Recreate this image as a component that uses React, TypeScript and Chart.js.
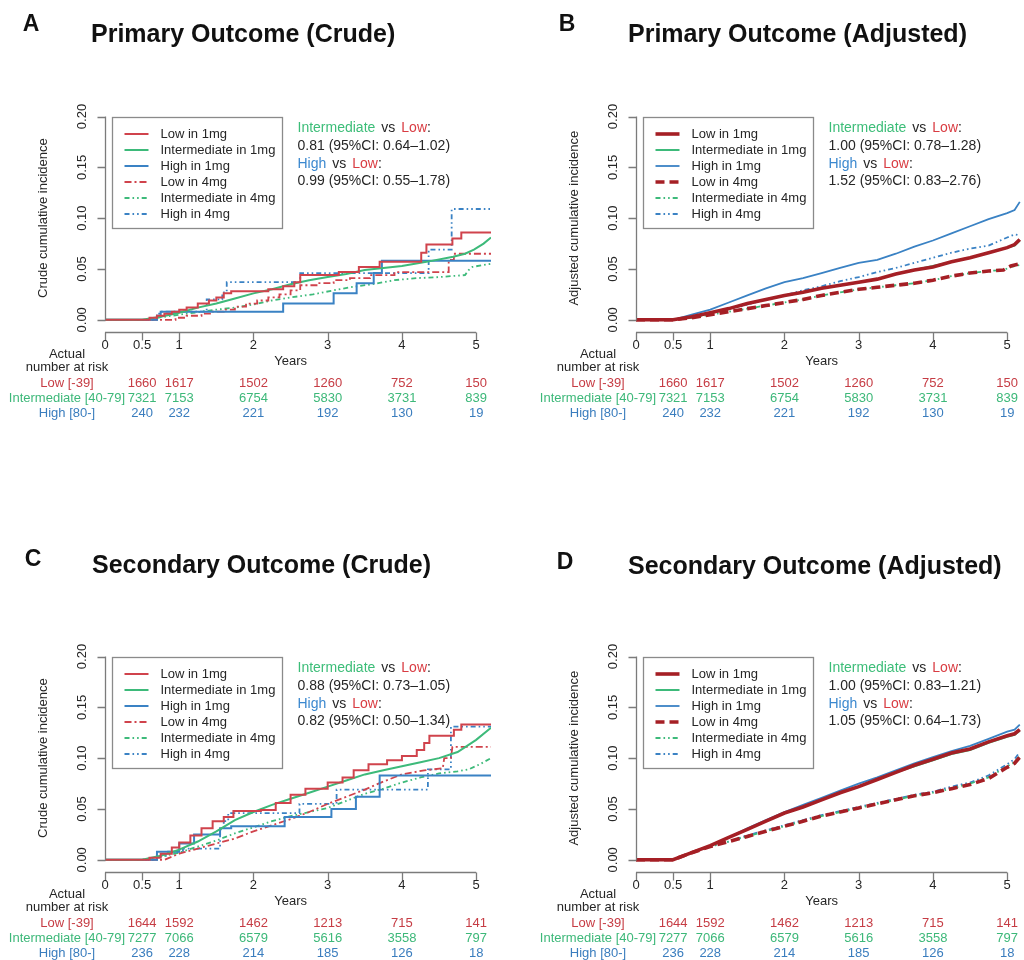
import React, { useEffect, useRef } from "react";
import { Chart, registerables } from "chart.js";

Chart.register(...registerables);

type Pt = [number, number];

// ---------------- ticks & labels ----------------
const xTicks = [0, 0.5, 1, 2, 3, 4, 5];
const xTickLabels = ["0", "0.5", "1", "2", "3", "4", "5"];
const yTicks = [0, 0.05, 0.1, 0.15, 0.2];
const yTickLabels = ["0.00", "0.05", "0.10", "0.15", "0.20"];

const seriesLabels = [
  "Low in 1mg",
  "Intermediate in 1mg",
  "High in 1mg",
  "Low in 4mg",
  "Intermediate in 4mg",
  "High in 4mg",
];

const riskTimes = [0.5, 1, 2, 3, 4, 5];
const riskGroupLabels = ["Low [-39]", "Intermediate [40-79]", "High [80-]"];
const primaryRiskLow = [1660, 1617, 1502, 1260, 752, 150];
const primaryRiskInt = [7321, 7153, 6754, 5830, 3731, 839];
const primaryRiskHigh = [240, 232, 221, 192, 130, 19];
const secondaryRiskLow = [1644, 1592, 1462, 1213, 715, 141];
const secondaryRiskInt = [7277, 7066, 6579, 5616, 3558, 797];
const secondaryRiskHigh = [236, 228, 214, 185, 126, 18];

// ---------------- Panel A: primary, crude ----------------
const aLow1: Pt[] = [[0,0],[0.5,0],[0.6,0.002],[0.7,0.004],[0.8,0.006],[0.9,0.008],[1.0,0.01],[1.1,0.012],[1.25,0.016],[1.4,0.019],[1.5,0.022],[1.6,0.026],[1.7,0.028],[2.2,0.03],[2.4,0.033],[2.55,0.037],[2.63,0.044],[3.05,0.044],[3.15,0.047],[3.42,0.052],[3.7,0.057],[4.26,0.066],[4.33,0.074],[4.68,0.08],[4.8,0.086],[5.2,0.086]];
const aInt1: Pt[] = [[0,0],[0.5,0],[0.75,0.003],[1.0,0.007],[1.25,0.012],[1.5,0.016],[1.75,0.021],[2.0,0.026],[2.25,0.03],[2.5,0.035],[2.75,0.039],[3.0,0.042],[3.25,0.045],[3.5,0.049],[3.75,0.051],[4.0,0.053],[4.33,0.057],[4.69,0.062],[4.85,0.065],[4.97,0.069],[5.1,0.075],[5.2,0.081]];
const aHigh1: Pt[] = [[0,0],[0.7,0.004],[0.75,0.008],[2.4,0.016],[3.08,0.026],[3.39,0.036],[3.62,0.046],[3.73,0.058],[5.2,0.058]];
const aLow4: Pt[] = [[0,0],[0.85,0],[0.95,0.002],[1.1,0.004],[1.3,0.006],[1.45,0.008],[1.6,0.01],[1.75,0.013],[1.9,0.016],[2.05,0.019],[2.2,0.022],[2.35,0.025],[2.5,0.029],[2.63,0.034],[2.85,0.036],[3.08,0.039],[3.3,0.041],[3.57,0.044],[3.9,0.047],[4.63,0.059],[4.7,0.065],[5.2,0.065]];
const aInt4: Pt[] = [[0,0],[0.55,0],[0.7,0.002],[0.9,0.004],[1.1,0.006],[1.3,0.008],[1.5,0.01],[1.75,0.012],[2.0,0.015],[2.25,0.019],[2.5,0.022],[2.8,0.025],[3.08,0.029],[3.3,0.032],[3.6,0.035],[3.9,0.039],[4.2,0.041],[4.5,0.042],[4.85,0.044],[4.9,0.049],[4.95,0.052],[5.1,0.054],[5.2,0.055]];
const aHigh4: Pt[] = [[0,0],[0.7,0.004],[0.73,0.008],[1.37,0.02],[1.58,0.027],[1.64,0.037],[2.63,0.046],[4.36,0.069],[4.67,0.109],[5.2,0.109]];

// ---------------- Panel B: primary, adjusted ----------------
const bLow1: Pt[] = [[0,0],[0.5,0],[0.75,0.003],[1.0,0.007],[1.25,0.011],[1.5,0.016],[1.75,0.02],[2.0,0.024],[2.25,0.027],[2.5,0.031],[2.75,0.034],[3.0,0.037],[3.25,0.04],[3.5,0.045],[3.75,0.049],[4.0,0.052],[4.25,0.057],[4.5,0.061],[4.75,0.066],[5.0,0.071],[5.1,0.074],[5.17,0.079]];
const bInt1: Pt[] = [[0,0],[0.5,0],[0.75,0.003],[1.0,0.007],[1.25,0.011],[1.5,0.016],[1.75,0.02],[2.0,0.024],[2.25,0.027],[2.5,0.031],[2.75,0.034],[3.0,0.037],[3.25,0.04],[3.5,0.045],[3.75,0.049],[4.0,0.053],[4.25,0.057],[4.5,0.061],[4.75,0.066],[5.0,0.071],[5.1,0.073],[5.17,0.078]];
const bHigh1: Pt[] = [[0,0],[0.5,0],[0.75,0.005],[1.0,0.01],[1.25,0.017],[1.5,0.024],[1.75,0.031],[2.0,0.037],[2.25,0.041],[2.5,0.046],[2.75,0.051],[3.0,0.056],[3.25,0.059],[3.5,0.065],[3.75,0.072],[4.0,0.078],[4.25,0.085],[4.5,0.092],[4.75,0.099],[5.0,0.105],[5.1,0.108],[5.17,0.116]];
const bLow4: Pt[] = [[0,0],[0.5,0],[0.75,0.002],[1.0,0.005],[1.25,0.008],[1.5,0.011],[1.75,0.014],[2.0,0.017],[2.25,0.02],[2.5,0.024],[2.75,0.027],[3.0,0.03],[3.25,0.032],[3.5,0.034],[3.75,0.036],[4.0,0.039],[4.25,0.043],[4.5,0.046],[4.75,0.048],[4.95,0.049],[5.05,0.053],[5.17,0.055]];
const bInt4: Pt[] = [[0,0],[0.5,0],[0.75,0.002],[1.0,0.005],[1.25,0.008],[1.5,0.011],[1.75,0.014],[2.0,0.017],[2.25,0.02],[2.5,0.024],[2.75,0.027],[3.0,0.03],[3.25,0.032],[3.5,0.034],[3.75,0.036],[4.0,0.039],[4.25,0.043],[4.5,0.046],[4.75,0.048],[4.95,0.049],[5.05,0.052],[5.17,0.054]];
const bHigh4: Pt[] = [[0,0],[0.5,0],[0.75,0.003],[1.0,0.007],[1.25,0.011],[1.5,0.015],[1.75,0.02],[2.0,0.024],[2.25,0.029],[2.5,0.033],[2.75,0.038],[3.0,0.042],[3.25,0.047],[3.5,0.051],[3.75,0.056],[4.0,0.061],[4.25,0.066],[4.5,0.07],[4.75,0.073],[5.0,0.081],[5.1,0.084],[5.17,0.083]];

// ---------------- Panel C: secondary, crude ----------------
const cLow1: Pt[] = [[0,0],[0.5,0],[0.6,0.002],[0.75,0.006],[0.9,0.012],[1.0,0.017],[1.15,0.024],[1.3,0.031],[1.45,0.038],[1.6,0.042],[1.73,0.048],[2.1,0.049],[2.3,0.056],[2.5,0.064],[2.7,0.07],[3.0,0.076],[3.2,0.081],[3.35,0.088],[3.55,0.094],[3.8,0.098],[4.0,0.102],[4.2,0.108],[4.3,0.115],[4.37,0.122],[4.65,0.122],[4.7,0.128],[4.8,0.133],[5.2,0.133]];
const cInt1: Pt[] = [[0,0],[0.5,0],[0.75,0.004],[1.0,0.01],[1.25,0.018],[1.5,0.028],[1.75,0.039],[2.0,0.047],[2.25,0.054],[2.5,0.06],[2.75,0.066],[3.0,0.072],[3.25,0.078],[3.5,0.084],[3.75,0.088],[4.0,0.092],[4.25,0.096],[4.5,0.1],[4.75,0.106],[5.0,0.118],[5.2,0.13]];
const cHigh1: Pt[] = [[0,0],[0.7,0.008],[1.0,0.016],[1.2,0.025],[1.55,0.031],[1.7,0.033],[2.42,0.042],[3.05,0.05],[3.38,0.062],[3.7,0.083],[5.2,0.083]];
const cLow4: Pt[] = [[0,0],[0.8,0],[0.9,0.003],[1.0,0.006],[1.25,0.011],[1.5,0.016],[1.75,0.021],[2.0,0.028],[2.25,0.034],[2.5,0.04],[2.75,0.047],[3.0,0.055],[3.25,0.062],[3.5,0.069],[3.75,0.077],[4.0,0.084],[4.3,0.088],[4.55,0.09],[4.57,0.1],[4.66,0.1],[4.68,0.111],[5.2,0.111]];
const cInt4: Pt[] = [[0,0],[0.5,0],[0.75,0.003],[1.0,0.007],[1.25,0.013],[1.5,0.019],[1.75,0.026],[2.0,0.032],[2.25,0.038],[2.5,0.043],[2.75,0.047],[3.0,0.051],[3.25,0.058],[3.5,0.065],[3.75,0.07],[4.0,0.076],[4.25,0.081],[4.5,0.085],[4.75,0.087],[4.9,0.089],[5.05,0.094],[5.2,0.1]];
const cHigh4: Pt[] = [[0,0],[0.7,0.004],[0.85,0.008],[1.05,0.011],[1.55,0.03],[1.6,0.038],[1.66,0.046],[2.62,0.055],[3.12,0.069],[4.35,0.089],[4.66,0.131],[5.2,0.131]];

// ---------------- Panel D: secondary, adjusted ----------------
const dLow1: Pt[] = [[0,0],[0.5,0],[0.75,0.007],[1.0,0.014],[1.25,0.022],[1.5,0.03],[1.75,0.038],[2.0,0.046],[2.25,0.052],[2.5,0.059],[2.75,0.066],[3.0,0.072],[3.25,0.079],[3.5,0.086],[3.75,0.093],[4.0,0.099],[4.25,0.105],[4.5,0.109],[4.75,0.116],[5.0,0.122],[5.1,0.124],[5.17,0.128]];
const dInt1: Pt[] = [[0,0],[0.5,0],[0.75,0.007],[1.0,0.014],[1.25,0.022],[1.5,0.03],[1.75,0.038],[2.0,0.046],[2.25,0.052],[2.5,0.059],[2.75,0.066],[3.0,0.072],[3.25,0.079],[3.5,0.086],[3.75,0.092],[4.0,0.098],[4.25,0.104],[4.5,0.108],[4.75,0.115],[5.0,0.121],[5.1,0.123],[5.17,0.127]];
const dHigh1: Pt[] = [[0,0],[0.5,0],[0.75,0.007],[1.0,0.014],[1.25,0.022],[1.5,0.031],[1.75,0.039],[2.0,0.047],[2.25,0.054],[2.5,0.061],[2.75,0.068],[3.0,0.075],[3.25,0.081],[3.5,0.088],[3.75,0.095],[4.0,0.101],[4.25,0.107],[4.5,0.112],[4.75,0.119],[5.0,0.126],[5.1,0.128],[5.17,0.133]];
const dLow4: Pt[] = [[0,0],[0.5,0],[0.75,0.007],[1.0,0.013],[1.25,0.018],[1.5,0.023],[1.75,0.028],[2.0,0.033],[2.25,0.038],[2.5,0.043],[2.75,0.047],[3.0,0.051],[3.25,0.055],[3.5,0.059],[3.75,0.063],[4.0,0.066],[4.25,0.07],[4.5,0.074],[4.75,0.08],[5.0,0.091],[5.1,0.095],[5.17,0.101]];
const dInt4: Pt[] = [[0,0],[0.5,0],[0.75,0.007],[1.0,0.013],[1.25,0.018],[1.5,0.023],[1.75,0.028],[2.0,0.033],[2.25,0.038],[2.5,0.043],[2.75,0.047],[3.0,0.051],[3.25,0.055],[3.5,0.059],[3.75,0.063],[4.0,0.066],[4.25,0.07],[4.5,0.075],[4.75,0.081],[5.0,0.092],[5.1,0.096],[5.17,0.102]];
const dHigh4: Pt[] = [[0,0],[0.5,0],[0.75,0.007],[1.0,0.013],[1.25,0.018],[1.5,0.024],[1.75,0.029],[2.0,0.034],[2.25,0.039],[2.5,0.044],[2.75,0.048],[3.0,0.052],[3.25,0.056],[3.5,0.06],[3.75,0.064],[4.0,0.067],[4.25,0.072],[4.5,0.076],[4.75,0.083],[5.0,0.094],[5.1,0.099],[5.17,0.106]];

// ---------------- HR annotations ----------------
const hrA = ["0.81 (95%CI: 0.64\u20131.02)", "0.99 (95%CI: 0.55\u20131.78)"];
const hrB = ["1.00 (95%CI: 0.78\u20131.28)", "1.52 (95%CI: 0.83\u20132.76)"];
const hrC = ["0.88 (95%CI: 0.73\u20131.05)", "0.82 (95%CI: 0.50\u20131.34)"];
const hrD = ["1.00 (95%CI: 0.83\u20131.21)", "1.05 (95%CI: 0.64\u20131.73)"];

// ---------------- styling ----------------
const FONT = "'Liberation Sans', Arial, Helvetica, sans-serif";
const RED = "#D0434C";
const DARKRED = "#A51F25";
const GREEN = "#3DBA7A";
const BLUE = "#3A82C4";
const AXIS = "#7b7b7b";
const TEXT = "#262626";
const T_RED = "#D93C42";
const T_GREEN = "#3CBD78";
const T_BLUE = "#3B88CF";
const R_RED = "#C63C44";
const R_GREEN = "#3DB879";
const R_BLUE = "#3A7DBE";

type Style = { color: string; width: number; dash: number[] };
const DD = [5, 3, 1.6, 3, 1.6, 3];
const crudeStyles: Style[] = [
  { color: RED, width: 2, dash: [] },
  { color: GREEN, width: 2, dash: [] },
  { color: BLUE, width: 2, dash: [] },
  { color: RED, width: 1.8, dash: [7, 3, 2, 3] },
  { color: GREEN, width: 1.8, dash: DD },
  { color: BLUE, width: 1.8, dash: DD },
];
const adjStyles: Style[] = [
  { color: DARKRED, width: 3.6, dash: [] },
  { color: GREEN, width: 2, dash: [] },
  { color: BLUE, width: 1.8, dash: [] },
  { color: DARKRED, width: 3.6, dash: [9, 5] },
  { color: GREEN, width: 1.8, dash: DD },
  { color: BLUE, width: 1.8, dash: DD },
];

type PanelCfg = {
  letter: string; letterX: number; letterY: number;
  title: string; titleX: number; titleY: number;
  yTitle: string; hr: string[];
  series: Pt[][]; stepped: boolean[]; styles: Style[];
  risk: number[][];
  ox: number; oy: number; w: number; h: number;
};

const panels: PanelCfg[] = [
  {
    letter: "A", letterX: 31, letterY: 25, title: "Primary Outcome (Crude)", titleX: 91, titleY: 35,
    yTitle: "Crude cumulative incidence", hr: hrA,
    series: [aLow1, aInt1, aHigh1, aLow4, aInt4, aHigh4],
    stepped: [true, false, true, true, false, true], styles: crudeStyles,
    risk: [primaryRiskLow, primaryRiskInt, primaryRiskHigh],
    ox: 0, oy: 0, w: 530, h: 540,
  },
  {
    letter: "B", letterX: 36, letterY: 25, title: "Primary Outcome (Adjusted)", titleX: 97, titleY: 35,
    yTitle: "Adjusted cumulative incidence", hr: hrB,
    series: [bLow1, bInt1, bHigh1, bLow4, bInt4, bHigh4],
    stepped: [false, false, false, false, false, false], styles: adjStyles,
    risk: [primaryRiskLow, primaryRiskInt, primaryRiskHigh],
    ox: 531, oy: 0, w: 493, h: 540,
  },
  {
    letter: "C", letterX: 33, letterY: 20, title: "Secondary Outcome (Crude)", titleX: 92, titleY: 26,
    yTitle: "Crude cumulative incidence", hr: hrC,
    series: [cLow1, cInt1, cHigh1, cLow4, cInt4, cHigh4],
    stepped: [true, false, true, false, false, true], styles: crudeStyles,
    risk: [secondaryRiskLow, secondaryRiskInt, secondaryRiskHigh],
    ox: 0, oy: 540, w: 530, h: 420,
  },
  {
    letter: "D", letterX: 34, letterY: 23, title: "Secondary Outcome (Adjusted)", titleX: 97, titleY: 27,
    yTitle: "Adjusted cumulative incidence", hr: hrD,
    series: [dLow1, dInt1, dHigh1, dLow4, dInt4, dHigh4],
    stepped: [false, false, false, false, false, false], styles: adjStyles,
    risk: [secondaryRiskLow, secondaryRiskInt, secondaryRiskHigh],
    ox: 531, oy: 540, w: 493, h: 420,
  },
];

function drawText(
  ctx: CanvasRenderingContext2D, s: string, x: number, y: number,
  font: string, color: string, align: CanvasTextAlign = "center", rot = 0
) {
  ctx.save();
  ctx.font = font;
  ctx.fillStyle = color;
  ctx.textAlign = align;
  ctx.textBaseline = "middle";
  ctx.translate(x, y);
  if (rot) ctx.rotate(rot);
  ctx.fillText(s, 0, 0);
  ctx.restore();
}

function makeDecor(p: PanelCfg) {
  return {
    id: "decor",
    afterDatasetsDraw(chart: any) {
      const ctx: CanvasRenderingContext2D = chart.ctx;
      const xs = chart.scales.x;
      const ys = chart.scales.y;
      const area = chart.chartArea;
      const X = (t: number) => xs.getPixelForValue(t);
      const Y = (v: number) => ys.getPixelForValue(v);
      const f13 = `13px ${FONT}`;
      ctx.save();

      // letter + title
      drawText(ctx, p.letter, p.letterX, p.letterY, `bold 23px ${FONT}`, "#111", "center");
      drawText(ctx, p.title, p.titleX, p.titleY, `bold 25px ${FONT}`, "#111", "left");

      // axes (R style: lines span first..last tick)
      ctx.strokeStyle = AXIS;
      ctx.lineWidth = 1.3;
      ctx.setLineDash([]);
      const ax = Math.round(X(xTicks[0])) + 0.5;
      const by = Math.round(area.bottom) + 0.5;
      ctx.beginPath();
      ctx.moveTo(ax, Y(yTicks[0]));
      ctx.lineTo(ax, Y(yTicks[yTicks.length - 1]));
      yTicks.forEach((v) => {
        const yy = Math.round(Y(v)) + 0.5;
        ctx.moveTo(ax, yy);
        ctx.lineTo(ax - 8, yy);
      });
      ctx.moveTo(X(xTicks[0]), by);
      ctx.lineTo(X(xTicks[xTicks.length - 1]), by);
      xTicks.forEach((t) => {
        const xx = Math.round(X(t)) + 0.5;
        ctx.moveTo(xx, by);
        ctx.lineTo(xx, by + 8);
      });
      ctx.stroke();

      // y tick labels (rotated)
      yTicks.forEach((v, i) => {
        drawText(ctx, yTickLabels[i], ax - 23, Y(v), f13, TEXT, "center", -Math.PI / 2);
      });
      // y title
      drawText(ctx, p.yTitle, ax - 62, Y((yTicks[0] + yTicks[yTicks.length - 1]) / 2), f13, TEXT, "center", -Math.PI / 2);
      // x tick labels
      xTicks.forEach((t, i) => {
        drawText(ctx, xTickLabels[i], X(t), by + 13, f13, TEXT, "center");
      });
      drawText(ctx, "Years", (X(xTicks[0]) + X(xTicks[xTicks.length - 1])) / 2, by + 29, f13, TEXT, "center");

      // risk table
      const labX = 67;
      drawText(ctx, "Actual", labX, by + 22, f13, TEXT, "center");
      drawText(ctx, "number at risk", labX, by + 35, f13, TEXT, "center");
      const rowColors = [R_RED, R_GREEN, R_BLUE];
      p.risk.forEach((row, r) => {
        const yy = by + 51 + r * 15;
        drawText(ctx, riskGroupLabels[r], labX, yy, f13, rowColors[r], "center");
        row.forEach((n, k) => {
          drawText(ctx, String(n), X(riskTimes[k]), yy, f13, rowColors[r], "center");
        });
      });

      // legend box
      const lx = ax + 7;
      const ly = Math.round(Y(yTicks[yTicks.length - 1])) + 0.5;
      ctx.strokeStyle = "#8a8a8a";
      ctx.lineWidth = 1.3;
      ctx.setLineDash([]);
      ctx.strokeRect(lx, ly, 170, 111);
      p.styles.forEach((s, i) => {
        const yy = ly + 16.5 + i * 16;
        ctx.save();
        ctx.strokeStyle = s.color;
        ctx.lineWidth = s.width;
        ctx.lineCap = "butt";
        ctx.setLineDash(s.dash);
        ctx.beginPath();
        ctx.moveTo(lx + 12, yy);
        ctx.lineTo(lx + 36, yy);
        ctx.stroke();
        ctx.restore();
        drawText(ctx, seriesLabels[i], lx + 48, yy, f13, TEXT, "left");
      });

      // HR annotation
      const f14 = `14px ${FONT}`;
      const hx = ax + 192;
      const hy = ly + 11;
      ctx.font = f14;
      const seg = (parts: [string, string][], y: number) => {
        let cx = hx;
        parts.forEach(([s, c], k) => {
          drawText(ctx, s, cx, y, f14, c, "left");
          ctx.font = f14;
          cx += ctx.measureText(s).width + (k < parts.length - 2 ? 6 : 0);
        });
      };
      seg([["Intermediate", T_GREEN], ["vs", TEXT], ["Low", T_RED], [":", TEXT]], hy);
      drawText(ctx, p.hr[0], hx, hy + 17.6, f14, TEXT, "left");
      seg([["High", T_BLUE], ["vs", TEXT], ["Low", T_RED], [":", TEXT]], hy + 35.2);
      drawText(ctx, p.hr[1], hx, hy + 52.8, f14, TEXT, "left");

      ctx.restore();
    },
  };
}

function Panel({ p }: { p: PanelCfg }) {
  const ref = useRef<HTMLCanvasElement>(null);
  useEffect(() => {
    const canvas = ref.current;
    if (!canvas) return;
    const axisLeft = 105;
    const axisRight = 491;
    const plotTop = 116.5;
    const plotBottom = 332;
    const chart = new Chart(canvas, {
      type: "line",
      data: {
        datasets: p.series.map((s, i) => ({
          label: seriesLabels[i],
          data: s.map(([x, y]) => ({ x, y })),
          borderColor: p.styles[i].color,
          borderWidth: p.styles[i].width,
          borderDash: p.styles[i].dash,
          borderCapStyle: "butt",
          stepped: p.stepped[i],
          tension: 0,
          pointRadius: 0,
          fill: false,
        })),
      },
      options: {
        responsive: false,
        animation: false,
        events: [],
        layout: {
          padding: {
            left: axisLeft,
            right: p.w - axisRight,
            top: plotTop,
            bottom: p.h - plotBottom,
          },
        },
        scales: {
          x: { type: "linear", min: 0, max: 5.2, display: false },
          y: { type: "linear", min: -0.012, max: 0.2, display: false },
        },
        plugins: {
          legend: { display: false },
          tooltip: { enabled: false },
          title: { display: false },
        },
      },
      plugins: [makeDecor(p)],
    } as any);
    return () => chart.destroy();
  }, [p]);
  return (
    <canvas
      ref={ref}
      width={p.w}
      height={p.h}
      style={{ position: "absolute", left: p.ox, top: p.oy, width: p.w, height: p.h, display: "block" }}
    />
  );
}

export default function App() {
  return (
    <div
      style={{
        position: "fixed",
        left: 0,
        top: 0,
        width: 1024,
        height: 960,
        overflow: "hidden",
        background: "#ffffff",
      }}
    >
      {panels.map((p) => (
        <Panel key={p.letter} p={p} />
      ))}
    </div>
  );
}
